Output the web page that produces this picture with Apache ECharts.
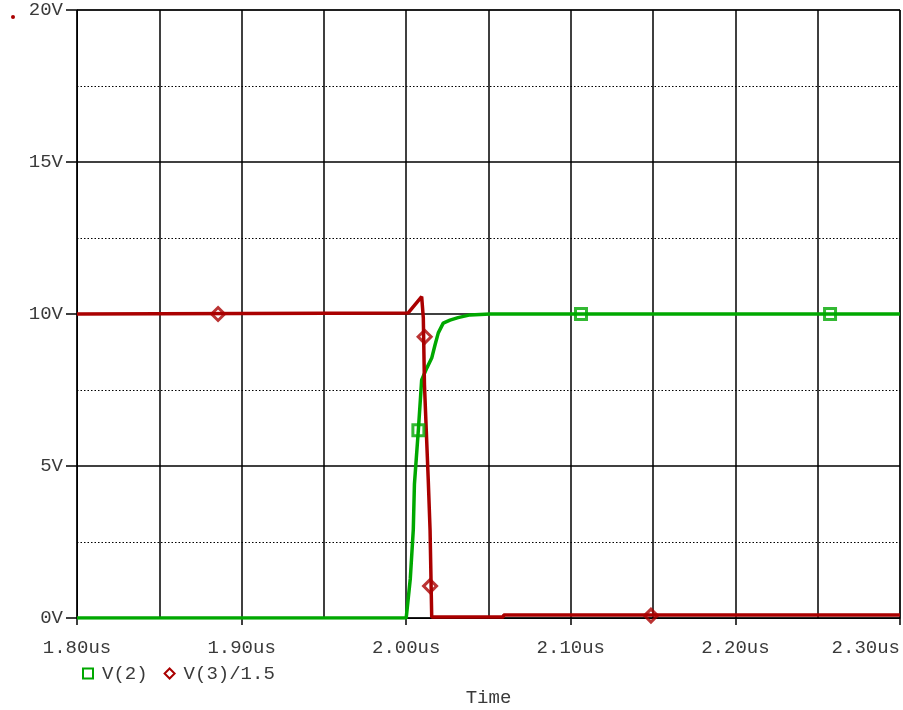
<!DOCTYPE html>
<html>
<head>
<meta charset="utf-8">
<script src="https://cdn.jsdelivr.net/npm/echarts@6/dist/echarts.min.js"></script>
<style>
  html, body { margin: 0; padding: 0; background: #fff; }
  #chart { width: 903px; height: 710px; }
</style>
</head>
<body>
<div id="chart"></div>
<script>
// V(2) trace (time in us, volts)
const v2Time = [1.80, 2.000, 2.0025, 2.0043, 2.0050, 2.0074, 2.0094, 2.0125, 2.0155, 2.0175, 2.0195, 2.0225, 2.0266, 2.0315, 2.0388, 2.0509, 2.30];
const v2Volt = [0, 0, 1.3, 2.9, 4.4, 6.2, 7.83, 8.22, 8.55, 8.98, 9.38, 9.7, 9.8, 9.88, 9.97, 10.0, 10.0];

// V(3)/1.5 trace
const v3Time = [1.80, 2.0011, 2.0094, 2.0104, 2.0111, 2.0134, 2.0145, 2.0155, 2.0590, 2.0592, 2.30];
const v3Volt = [10, 10.03, 10.57, 9.87, 7.66, 4.54, 2.89, 0.03, 0.03, 0.1, 0.1];

// marker positions drawn on the traces
const v2MarkT = [2.0074, 2.1062, 2.2575];
const v2MarkV = [6.18, 10.0, 10.0];
const v3MarkT = [1.8857, 2.0112, 2.0145, 2.1487];
const v3MarkV = [10.0, 9.25, 1.05, 0.08];

const green = '#00a800';
const red = '#aa0000';
const font = 'Liberation Mono';
const textColor = '#3a3a3a';

function zip(a, b) {
  return a.map(function (x, i) { return [x, b[i]]; });
}

let myChart = echarts.init(document.getElementById('chart'));
let option = {
  animation: false,
  backgroundColor: '#fff',
  textStyle: { fontFamily: font },
  grid: {
    left: 77, right: 3, top: 10, bottom: 92,
    outerBoundsMode: 'none', containLabel: false,
    show: true, borderColor: '#000', borderWidth: 1
  },
  legend: {
    left: 77, top: 659,
    itemWidth: 10, itemHeight: 10, itemGap: 16,
    textStyle: { fontFamily: font, fontSize: 19, color: textColor, padding: [0, 0, 0, 4] },
    data: [
      { name: 'V(2)', icon: 'rect', itemStyle: { color: '#fff', borderColor: green, borderWidth: 2 } },
      { name: 'V(3)/1.5', icon: 'diamond', itemStyle: { color: '#fff', borderColor: red, borderWidth: 2 } }
    ]
  },
  graphic: [{
    type: 'circle', left: 11, top: 15, shape: { r: 2 }, style: { fill: red }
  }],
  xAxis: {
    type: 'value', min: 1.8, max: 2.3, interval: 0.1,
    name: 'Time', nameLocation: 'middle', nameGap: 70,
    nameTextStyle: { fontFamily: font, fontSize: 19, color: textColor },
    axisLine: { show: true, lineStyle: { color: '#000', width: 1 } },
    axisTick: { show: true, length: 7, lineStyle: { color: '#000', width: 1.5 } },
    axisLabel: {
      margin: 20, fontFamily: font, fontSize: 19, color: textColor,
      alignMaxLabel: 'right',
      formatter: function (v) { return v.toFixed(2) + 'us'; }
    },
    splitLine: { show: true, lineStyle: { color: '#000', width: 1.5 } },
    minorTick: { show: false, splitNumber: 2 },
    minorSplitLine: { show: true, lineStyle: { color: '#000', width: 1.5 } }
  },
  yAxis: {
    type: 'value', min: 0, max: 20, interval: 5,
    axisLine: { show: true, lineStyle: { color: '#000', width: 1 } },
    axisTick: { show: true, length: 11, lineStyle: { color: '#000', width: 1.5 } },
    axisLabel: {
      margin: 14, fontFamily: font, fontSize: 19, color: textColor,
      formatter: function (v) { return v + 'V'; }
    },
    splitLine: { show: true, lineStyle: { color: '#000', width: 1.5 } },
    minorTick: { show: false, splitNumber: 2 },
    minorSplitLine: { show: true, lineStyle: { color: '#000', width: 1, type: [1.5, 2] } }
  },
  series: [
    {
      name: 'V(2)', type: 'line', showSymbol: false, z: 3,
      data: zip(v2Time, v2Volt),
      lineStyle: { color: green, width: 3.5 }, itemStyle: { color: green }
    },
    {
      name: 'V(3)/1.5', type: 'line', showSymbol: false, z: 4,
      data: zip(v3Time, v3Volt),
      lineStyle: { color: red, width: 3.5 }, itemStyle: { color: red }
    },
    {
      name: 'V(2) marks', type: 'scatter', symbol: 'rect', symbolSize: 11, z: 5,
      data: zip(v2MarkT, v2MarkV),
      itemStyle: { color: 'rgba(255,255,255,0)', borderColor: green, borderWidth: 3 }
    },
    {
      name: 'V(3) marks', type: 'scatter', symbol: 'diamond', symbolSize: 13, z: 5,
      data: zip(v3MarkT, v3MarkV),
      itemStyle: { color: 'rgba(255,255,255,0)', borderColor: red, borderWidth: 3 }
    }
  ]
};
myChart.setOption(option);
</script>
</body>
</html>
